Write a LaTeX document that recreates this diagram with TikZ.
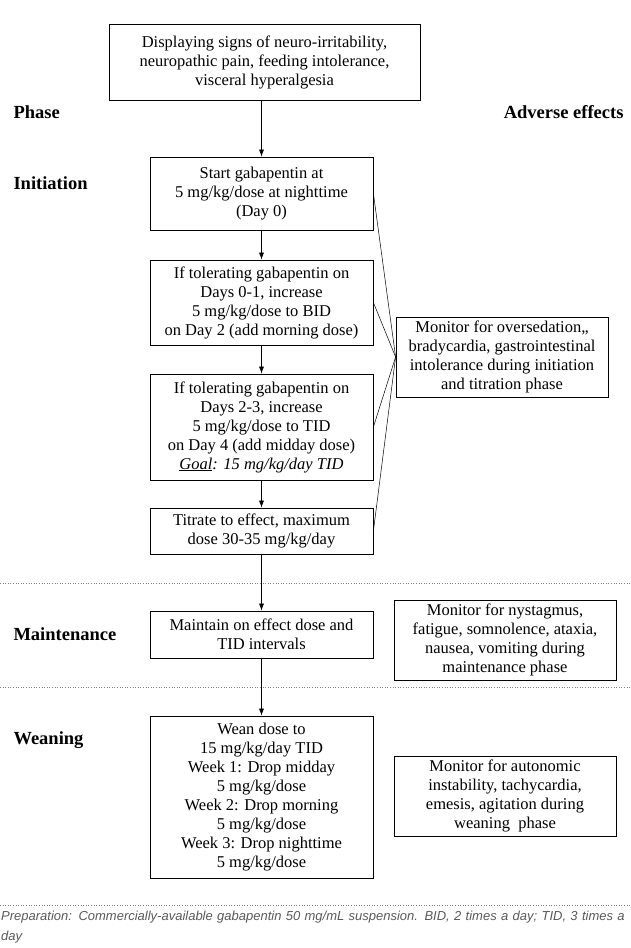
\documentclass[tikz,border=0pt]{standalone}
\usepackage{fontspec}
\setmainfont{Liberation Serif}
\newfontfamily\footfont{Liberation Sans}
\usetikzlibrary{arrows.meta}
\begin{document}
\begin{tikzpicture}[x=1pt,y=-1pt,
 box/.style={draw,line width=0.8pt,align=center,font=\fontsize{16.5}{19}\selectfont,inner sep=0pt},
 lab/.style={font=\fontsize{18.5}{20}\selectfont\bfseries,anchor=west},
 arr/.style={-{Latex[length=7pt,width=5pt]},line width=0.6pt},
 ln/.style={line width=0.5pt},
 sep/.style={dotted,line width=0.6pt,gray}]
\useasboundingbox (0,0) rectangle (631,948);
\node[box,minimum width=311,minimum height=76] (top) at (264.5,62) {Displaying signs of neuro-irritability,\\neuropathic pain, feeding intolerance,\\visceral hyperalgesia};
\node[lab] (ph) at (10,112) {Phase};
\node[lab,anchor=east] (ae) at (627,112) {Adverse effects};
\node[lab] (ini) at (10,183) {Initiation};
\node[box,minimum width=223,minimum height=73] (b1) at (261.5,193.5) {Start gabapentin at\\5 mg/kg/dose at nighttime\\(Day 0)};
\node[box,minimum width=223,minimum height=85] (b2) at (261.5,302.5) {If tolerating gabapentin on\\Days 0-1, increase\\5 mg/kg/dose to BID\\on Day 2 (add morning dose)};
\node[box,minimum width=223,minimum height=106] (b3) at (261.5,427) {If tolerating gabapentin on\\Days 2-3, increase\\5 mg/kg/dose to TID\\on Day 4 (add midday dose)\\\textit{\underline{Goal}: 15 mg/kg/day TID}};
\node[box,minimum width=223,minimum height=46] (b4) at (261.5,531) {Titrate to effect, maximum\\dose 30-35 mg/kg/day};
\node[box,minimum width=212,minimum height=80] (m1) at (502,357) {Monitor for oversedation,,\\bradycardia, gastrointestinal\\intolerance during initiation\\and titration phase};
\coordinate (cv) at (m1.west);
\draw[ln] (b1.east) -- (cv);
\draw[ln] (b2.east) -- (cv);
\draw[ln] (b3.east) -- (cv);
\draw[ln] (b4.east) -- (cv);
\coordinate (s1a) at (0,583); \coordinate (s1b) at (631,583);
\draw[sep] (s1a) -- (s1b);
\node[lab] (mai) at (10,634) {Maintenance};
\node[box,minimum width=223,minimum height=47] (b5) at (261.5,634.5) {Maintain on effect dose and\\TID intervals};
\node[box,minimum width=222,minimum height=80] (m2) at (505,640) {Monitor for nystagmus,\\fatigue, somnolence, ataxia,\\nausea, vomiting during\\maintenance phase};
\coordinate (s2a) at (0,687); \coordinate (s2b) at (631,687);
\draw[sep] (s2a) -- (s2b);
\node[lab] (wea) at (10,740) {Weaning};
\node[box,minimum width=223,minimum height=162] (b6) at (261.5,797) {Wean dose to\\15 mg/kg/day TID\\Week 1: Drop midday\\5 mg/kg/dose\\Week 2: Drop morning\\5 mg/kg/dose\\Week 3: Drop nighttime\\5 mg/kg/dose};
\node[box,minimum width=222,minimum height=80] (m3) at (505,796) {Monitor for autonomic\\instability, tachycardia,\\emesis, agitation during\\weaning\ \ phase};
\coordinate (s3a) at (0,905); \coordinate (s3b) at (631,905);
\draw[sep] (s3a) -- (s3b);
\draw[arr] (top.south -| b1.north) -- (b1.north);
\draw[arr] (b1) -- (b2);
\draw[arr] (b2) -- (b3);
\draw[arr] (b3) -- (b4);
\draw[arr] (b4) -- (b5);
\draw[arr] (b5) -- (b6);
\node[anchor=north west,align=left,text width=626,inner sep=0pt,text=black!65,font=\footfont\itshape\fontsize{13}{20}\selectfont] (ft) at (1,911) {Preparation: Commercially-available gabapentin 50 mg/mL suspension. BID, 2 times a day; TID, 3 times a day};
\end{tikzpicture}
\end{document}
